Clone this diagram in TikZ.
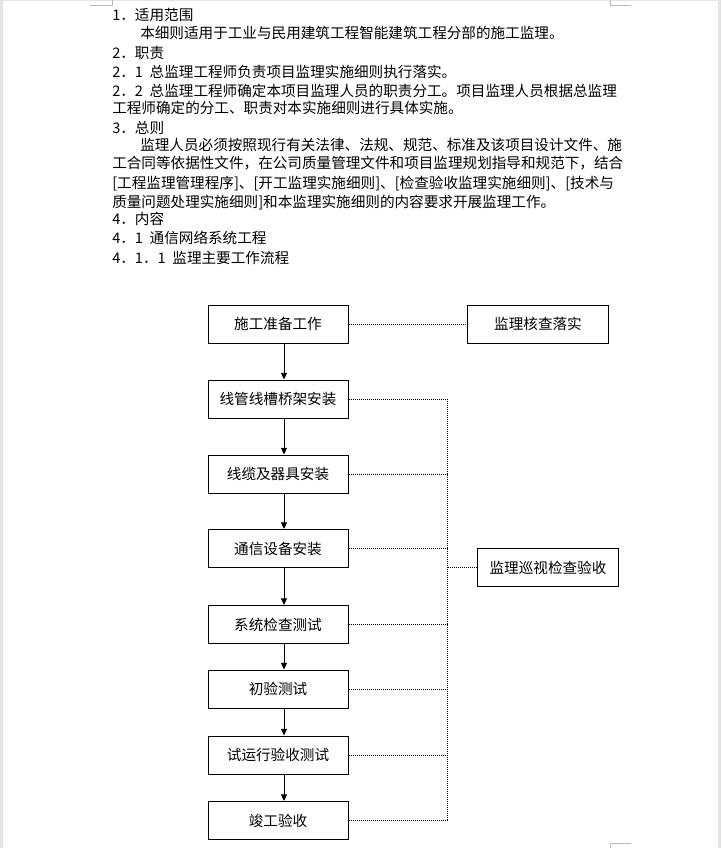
\documentclass[tikz,border=0pt]{standalone}
\usepackage{fontspec}
\setmainfont{Noto Sans CJK SC}
\usetikzlibrary{arrows.meta, positioning}
\definecolor{PageGray}{HTML}{E4E4E4}
\definecolor{MarkGray}{HTML}{B8B8B8}
\newcommand{\numgap}{\hspace{5pt}}

\begin{document}
\begin{tikzpicture}[x=0.75pt, y=-0.75pt, >={Triangle[length=5pt, width=4.5pt]},
  font=\fontsize{10.95pt}{13pt}\selectfont,
  stepbox/.style={draw, line width=0.75pt, minimum width=105pt, minimum height=28.5pt, inner sep=0pt},
  checkbox/.style={stepbox, minimum width=106pt},
  txt/.style={anchor=base west, inner sep=0pt},
  flow/.style={->, line width=0.75pt},
  link/.style={line width=0.75pt, dash pattern=on 0.75pt off 0.75pt}]
  \useasboundingbox (0,0) rectangle (721,848);
  % page frame and corner marks
  \fill[PageGray] (0,0) rectangle (3,848);
  \fill[PageGray] (718,0) rectangle (721,848);
  \fill[PageGray] (0,0) rectangle (721,1);
  \draw[MarkGray, line width=0.75pt] (90,6) -- (112,6) -- (112,0);
  \draw[MarkGray, line width=0.75pt] (631,6) -- (610,6) -- (610,0);
  \draw[MarkGray, line width=0.75pt] (631,843) -- (610,843) -- (610,848);
  % text
  \node[txt] (l1) at (112,20.5) {1．适用范围};
  \node[txt] (l2) at (140,38.5) {本细则适用于工业与民用建筑工程智能建筑工程分部的施工监理。};
  \node[txt] (l3) at (112,58.5) {2．职责};
  \node[txt] (l4) at (112,77.5) {2．1\numgap 总监理工程师负责项目监理实施细则执行落实。};
  \node[txt] (l5) at (112,96.5) {2．2\numgap 总监理工程师确定本项目监理人员的职责分工。项目监理人员根据总监理};
  \node[txt] (l6) at (112,113.5) {工程师确定的分工、职责对本实施细则进行具体实施。};
  \node[txt] (l7) at (112,133.5) {3．总则};
  \node[txt] (l8) at (140,150.5) {监理人员必须按照现行有关法律、法规、规范、标准及该项目设计文件、施};
  \node[txt] (l9) at (112,168.5) {工合同等依据性文件，在公司质量管理文件和项目监理规划指导和规范下，结合};
  \node[txt] (l10) at (112,188.5) {[工程监理管理程序]、[开工监理实施细则]、[检查验收监理实施细则]、[技术与};
  \node[txt] (l11) at (112,207.5) {质量问题处理实施细则]和本监理实施细则的内容要求开展监理工作。};
  \node[txt] (l12) at (112,224.5) {4．内容};
  \node[txt] (l13) at (112,243.5) {4．1\numgap 通信网络系统工程};
  \node[txt] (l14) at (112,263.5) {4．1．1\numgap 监理主要工作流程};
  % flow boxes
  \foreach \nm/\yy/\lbl in {prep/324/施工准备工作, duct/399/线管线槽桥架安装,
      cable/474/线缆及器具安装, equip/548.5/通信设备安装, systest/624.5/系统检查测试,
      initest/689/初验测试, trial/755/试运行验收测试, accept/820.5/竣工验收}
    \node[stepbox] (\nm) at (278,\yy) {\lbl};
  \node[checkbox] (verify) at (538,324) {监理核查落实};
  \node[checkbox] (patrol) at (548,567.5) {监理巡视检查验收};
  % arrows
  \foreach \a/\b in {prep/duct, duct/cable, cable/equip, equip/systest,
      systest/initest, initest/trial, trial/accept}
    \draw[flow] ([xshift=4.5pt]\a.south) -- ([xshift=4.5pt]\b.north);
  % dotted links
  \coordinate (bus) at (447,0);
  \draw[link] (prep.east) -- (verify.west);
  \foreach \a in {duct, cable, equip, systest, initest, trial, accept}
    \draw[link] (\a.east) -- (\a.east -| bus);
  \draw[link] (duct.east -| bus) -- (accept.east -| bus);
  \draw[link] (patrol.west) -- (patrol.west -| bus);
\end{tikzpicture}
\end{document}
